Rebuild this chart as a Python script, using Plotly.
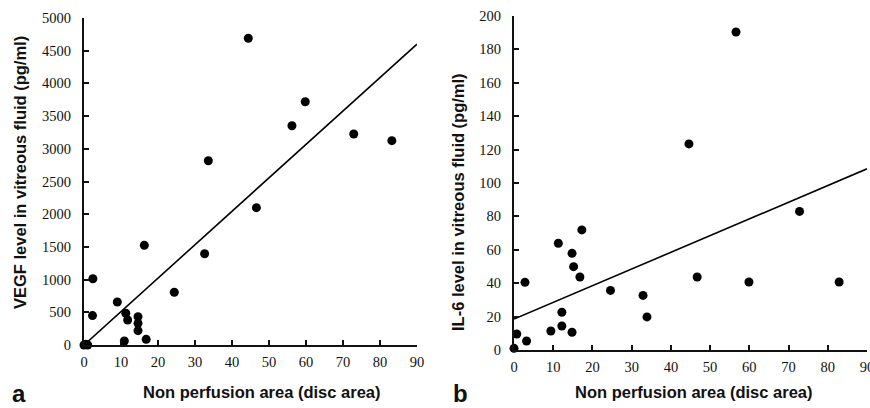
import plotly.graph_objects as go

# Panel a: VEGF
vegf_x = [0, 0.5, 1.0, 2.4, 2.3, 9.0, 11.3, 11.8, 10.9, 14.6, 14.6, 14.6, 16.8, 16.3, 24.4, 32.6, 33.6,
          46.6, 44.4, 59.8, 56.2, 72.9, 83.2]
vegf_y = [0, 10, 0, 1013, 450, 657, 485, 382, 61, 433, 331, 219, 87, 1524, 806, 1396, 2818,
          2100, 4690, 3720, 3353, 3226, 3124]
vegf_fit_x = [0, 90]
vegf_fit_y = [0, 4600]

# Panel b: IL-6
il6_x = [0, 0.7, 3.2, 2.8, 9.4, 11.3, 12.2, 12.2, 14.8, 15.2, 14.8, 16.8, 17.3, 24.6, 32.9, 33.9,
         46.7, 59.9, 72.8, 82.9, 56.6, 44.6]
il6_y = [1, 9.6, 5.4, 40.5, 11.4, 63.9, 22.6, 14.4, 57.9, 49.9, 10.6, 43.7, 71.9, 35.7, 32.7, 19.8,
         43.7, 40.7, 83, 40.7, 190.4, 123.4]
il6_fit_x = [0, 90]
il6_fit_y = [18.5, 108.5]

x_ticks = [0, 10, 20, 30, 40, 50, 60, 70, 80, 90]
vegf_ticks = [0, 500, 1000, 1500, 2000, 2500, 3000, 3500, 4000, 4500, 5000]
il6_ticks = [0, 20, 40, 60, 80, 100, 120, 140, 160, 180, 200]

x_title = "Non perfusion area (disc area)"
vegf_title = "VEGF level in vitreous fluid (pg/ml)"
il6_title = "IL-6 level in vitreous fluid (pg/ml)"

fig = go.Figure()
marker = dict(color="black", size=9)
line = dict(color="black", width=1.6)

fig.add_trace(go.Scatter(x=vegf_fit_x, y=vegf_fit_y, mode="lines", line=line, xaxis="x", yaxis="y",
                         cliponaxis=False, hoverinfo="skip"))
fig.add_trace(go.Scatter(x=vegf_x, y=vegf_y, mode="markers", marker=marker, xaxis="x", yaxis="y",
                         cliponaxis=False))
fig.add_trace(go.Scatter(x=il6_fit_x, y=il6_fit_y, mode="lines", line=line, xaxis="x2", yaxis="y2",
                         cliponaxis=False, hoverinfo="skip"))
fig.add_trace(go.Scatter(x=il6_x, y=il6_y, mode="markers", marker=marker, xaxis="x2", yaxis="y2",
                         cliponaxis=False))

tickfont = dict(family="Times New Roman, Liberation Serif, serif", size=14.5, color="#111")
common_x = dict(range=[0, 90], tickvals=x_ticks, showline=True, linecolor="#111", linewidth=2,
                ticks="inside", ticklen=5, tickwidth=1.5, tickcolor="#111", showgrid=False,
                zeroline=False, tickfont=tickfont, fixedrange=True, ticklabelstandoff=3,
                automargin=False, ticklabeloverflow="allow")
common_y = dict(showline=True, linecolor="#111", linewidth=2, ticks="inside", ticklen=5,
                tickwidth=1.5, tickcolor="#111", showgrid=False, zeroline=False, tickfont=tickfont,
                fixedrange=True, ticklabelstandoff=8, automargin=False)

W, H = 870, 408
fig.update_layout(
    width=W, height=H, margin=dict(l=0, r=0, t=0, b=0, autoexpand=False),
    paper_bgcolor="white", plot_bgcolor="white", showlegend=False,
    xaxis=dict(domain=[84 / W, 417 / W], anchor="y", **common_x),
    yaxis=dict(domain=[(H - 345) / H, (H - 18) / H], anchor="x", range=[0, 5000],
               tickvals=vegf_ticks, **common_y),
    xaxis2=dict(domain=[514 / W, 867 / W], anchor="y2", **common_x),
    yaxis2=dict(domain=[(H - 350) / H, (H - 16) / H], anchor="x2", range=[0, 200],
                tickvals=il6_ticks, **common_y),
)

title_font = dict(family="Liberation Sans", size=16.5, color="#111")
ann = [
    dict(text="<b>" + x_title + "</b>", x=262, y=H - 392),
    dict(text="<b>" + x_title + "</b>", x=694, y=H - 392),
    dict(text="<b>" + vegf_title + "</b>", x=20, y=H - 173, textangle=-90),
    dict(text="<b>" + il6_title + "</b>", x=458, y=H - 202, textangle=-90),
]
for a in ann:
    fig.add_annotation(text=a["text"], x=a["x"] / W, y=a["y"] / H, xref="paper", yref="paper",
                       showarrow=False, font=title_font, textangle=a.get("textangle", 0),
                       xanchor="center", yanchor="middle")
fig.add_annotation(text="<b>a</b>", x=19 / W, y=(H - 393) / H, xref="paper", yref="paper",
                   showarrow=False, font=dict(family="Liberation Sans", size=24, color="#111"),
                   xanchor="center", yanchor="middle")
fig.add_annotation(text="<b>b</b>", x=460 / W, y=(H - 393) / H, xref="paper", yref="paper",
                   showarrow=False, font=dict(family="Liberation Sans", size=24, color="#111"),
                   xanchor="center", yanchor="middle")

fig.write_html("out.html", config={"displayModeBar": False},
               post_script="document.body.style.margin='0';document.body.style.overflow='hidden';")
